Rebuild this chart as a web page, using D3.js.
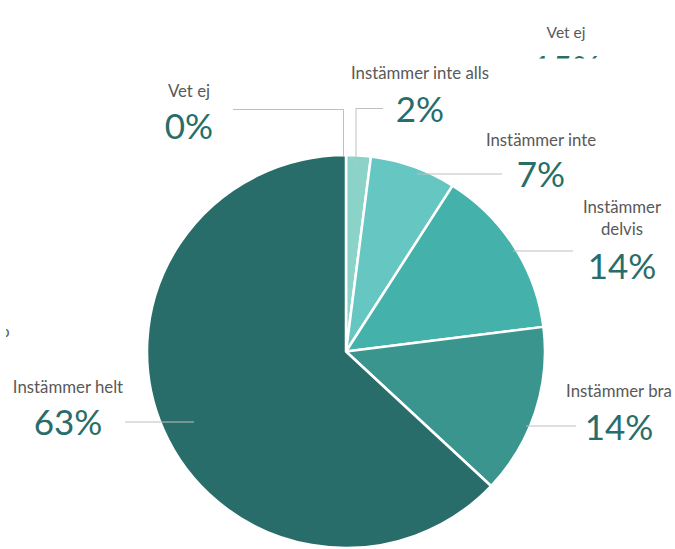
<!DOCTYPE html>
<html>
<head>
<meta charset="utf-8">
<script src="https://cdn.jsdelivr.net/npm/d3@7"></script>
<style>
  html, body { margin: 0; padding: 0; background: #ffffff; }
  svg { display: block; }
  text { font-family: Lato, "Open Sans", sans-serif; }
</style>
</head>
<body>
<svg id="chart" width="675" height="549"></svg>
<script>
// Response categories, clockwise from twelve o'clock
const categories = ["Instämmer inte alls", "Instämmer inte", "Instämmer delvis", "Instämmer bra", "Instämmer helt", "Vet ej"];
// Share of responses, percent
const shares = [2, 7, 14, 14, 63, 0];
// Label text shown next to each slice (delvis wraps onto two lines)
const labelLines = [["Instämmer inte alls"], ["Instämmer inte"], ["Instämmer", "delvis"], ["Instämmer bra"], ["Instämmer helt"], ["Vet ej"]];
// Partly hidden labels of a neighbouring chart
const neighbourLabel = "Vet ej";
const neighbourShare = 15;

const sliceColors = ["#8bd3c8", "#66c6c1", "#45b1ab", "#3a958f", "#286d69", "#286d69"];

// Label placement: centre x, baseline of the (last) name line, baseline of the percentage, leader polyline
const layout = [
  { x: 420, nameY: 79,  pctY: 122, leader: [[383, 108.5], [356, 108.5], [356, 163]] },
  { x: 541, nameY: 146, pctY: 187, leader: [[502, 174], [417, 174]] },
  { x: 622, nameY: 235, pctY: 279, leader: [[573, 251], [513, 251]] },
  { x: 619, nameY: 397, pctY: 440, leader: [[576, 426], [526, 426]] },
  { x: 68,  nameY: 393, pctY: 435, leader: [[125, 422], [194, 422]] },
  { x: 189, nameY: 97,  pctY: 139, leader: [[233, 109.5], [343.5, 109.5], [343.5, 156]] }
];

const svg = d3.select("#chart");
const cx = 346, cy = 351.5, radius = 196.5, stretchX = 1.0127;

const pie = d3.pie().sort(null).value(d => d);
const arc = d3.arc().innerRadius(0).outerRadius(radius);

const arcs = pie(shares);

const g = svg.append("g").attr("transform", `translate(${cx},${cy}) scale(${stretchX},1)`);
g.selectAll("path.slice")
  .data(arcs)
  .join("path")
  .attr("class", "slice")
  .attr("d", arc)
  .attr("fill", (d, i) => sliceColors[i])
  .attr("stroke", "#ffffff")
  .attr("stroke-width", d => d.endAngle - d.startAngle > 0 ? 2.5 : 0)
  .attr("stroke-linejoin", "round");

// Leader lines
const line = d3.line();
svg.selectAll("path.leader")
  .data(layout)
  .join("path")
  .attr("class", "leader")
  .attr("d", d => line(d.leader))
  .attr("fill", "none")
  .attr("stroke", "#bfbfbf")
  .attr("stroke-width", 1);

// Data labels
const labels = svg.selectAll("g.label")
  .data(arcs)
  .join("g")
  .attr("class", "label");

labels.each(function (d, i) {
  const sel = d3.select(this);
  const pos = layout[i];
  const lines = labelLines[i];
  lines.forEach((t, k) => {
    sel.append("text")
      .attr("x", pos.x)
      .attr("y", pos.nameY + (k - (lines.length - 1)) * 22)
      .attr("text-anchor", "middle")
      .attr("font-size", 16.8)
      .attr("fill", "#595959")
      .text(t);
  });
  sel.append("text")
    .attr("x", pos.x)
    .attr("y", pos.pctY)
    .attr("text-anchor", "middle")
    .attr("font-size", 35)
    .attr("fill", "#286d69")
    .text(d3.format(".0f")(d.data) + "%");
});

// Neighbouring chart peeking in at the top right, cut off by its frame
svg.append("clipPath").attr("id", "topClip")
  .append("rect").attr("x", 0).attr("y", 0).attr("width", 675).attr("height", 58.5);
const nb = svg.append("g").attr("clip-path", "url(#topClip)");
nb.append("text")
  .attr("x", 566).attr("y", 37.5)
  .attr("text-anchor", "middle")
  .attr("font-size", 15.5)
  .attr("fill", "#595959")
  .text(neighbourLabel);
nb.append("text")
  .attr("x", 566).attr("y", 81)
  .attr("text-anchor", "middle")
  .attr("font-size", 35)
  .attr("fill", "#286d69")
  .text(neighbourShare + "%");

// Edge of a label from another chart, clipped at the left border
svg.append("clipPath").attr("id", "leftClip")
  .append("rect").attr("x", 6).attr("y", 300).attr("width", 20).attr("height", 60);
svg.append("text")
  .attr("clip-path", "url(#leftClip)")
  .attr("x", 1).attr("y", 337)
  .attr("font-size", 15)
  .attr("fill", "#595959")
  .text("o");
</script>
</body>
</html>
